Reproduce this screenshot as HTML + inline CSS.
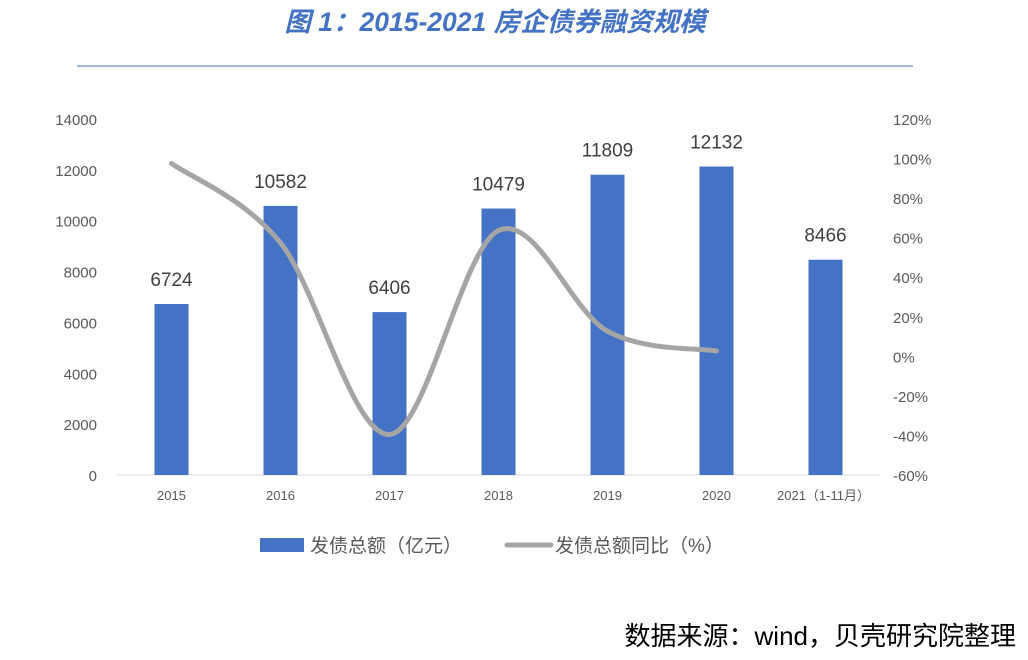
<!DOCTYPE html>
<html><head><meta charset="utf-8"><style>
html,body{margin:0;padding:0;background:#fff;}
body{width:1028px;height:660px;overflow:hidden;position:relative;font-family:"Liberation Sans","Noto Sans CJK SC",sans-serif;}
</style></head><body>
<svg width="1028" height="660" xmlns="http://www.w3.org/2000/svg" style="position:absolute;left:0;top:0">
<text x="495" y="31" text-anchor="middle" font-size="26.5" font-weight="bold" font-style="italic" fill="#4472C4" font-family="Liberation Sans, Noto Sans CJK SC, sans-serif">图 1：2015-2021 房企债券融资规模</text>
<line x1="77" y1="66" x2="913" y2="66" stroke="#4472C4" stroke-width="1"/>
<g id="plot"></g>
<g>
<rect x="260" y="538" width="44" height="14" fill="#4472C4"/>
<text x="310" y="552" font-size="19" fill="#595959">发债总额（亿元）</text>
<line x1="507" y1="545" x2="551" y2="545" stroke="#A5A5A5" stroke-width="5" stroke-linecap="round"/>
<text x="555" y="552" font-size="19" fill="#595959">发债总额同比（%）</text>
</g>
<text x="1016" y="645" text-anchor="end" font-size="26" fill="#000">数据来源：wind，贝壳研究院整理</text>
</svg>
<script>
const categories=["2015","2016","2017","2018","2019","2020","2021（1-11月）"];
const amounts=[6724,10582,6406,10479,11809,12132,8466];
const yoy=[97.5,57.4,-39.5,63.6,12.7,2.7];
const leftTicks=[0,2000,4000,6000,8000,10000,12000,14000];
const rightTicks=[-60,-40,-20,0,20,40,60,80,100,120];
const NS="http://www.w3.org/2000/svg";
const g=document.getElementById('plot');
const x0=117,x1=880,yb=475,yt=119;
const band=(x1-x0)/categories.length;
const xc=i=>x0+band*(i+0.5);
const yL=v=>yb-(v/14000)*(yb-yt);
const yR=v=>yb-((v+60)/180)*(yb-yt);
function mk(t,a){const e=document.createElementNS(NS,t);for(const k in a)e.setAttribute(k,a[k]);g.appendChild(e);return e;}
const ax=mk('line',{x1:x0,y1:yb,x2:x1,y2:yb,stroke:'#D9D9D9','stroke-width':1});


leftTicks.forEach(v=>{const t=mk('text',{x:97,y:yL(v)+6,'text-anchor':'end','font-size':15,fill:'#595959'});t.textContent=v;

});
rightTicks.forEach(v=>{const t=mk('text',{x:893,y:yR(v)+6,'font-size':15,fill:'#595959'});t.textContent=v+'%';

});
categories.forEach((c,i)=>{const big=i===6;const t=mk('text',{x:xc(i)+(big?-2:0),y:500,'text-anchor':'middle','font-size':13,fill:'#595959'});t.textContent=c;

});
amounts.forEach((v,i)=>{const w=34;const r=mk('rect',{x:xc(i)-w/2,y:yL(v),width:w,height:yb-yL(v),fill:'#4472C4'});


const t=mk('text',{x:xc(i),y:yL(v)-18,'text-anchor':'middle','font-size':19,fill:'#404040'});t.textContent=v;

});
const pts=yoy.map((v,i)=>[xc(i),yR(v)]);
let d='M'+pts[0][0]+','+pts[0][1];
for(let i=0;i<pts.length-1;i++){const p0=pts[i-1]||pts[i],p1=pts[i],p2=pts[i+1],p3=pts[i+2]||p2;const s=6;
d+=' C'+(p1[0]+(p2[0]-p0[0])/s)+','+(p1[1]+(p2[1]-p0[1])/s)+' '+(p2[0]-(p3[0]-p1[0])/s)+','+(p2[1]-(p3[1]-p1[1])/s)+' '+p2[0]+','+p2[1];}
const ln=mk('path',{d:d,fill:'none',stroke:'#A5A5A5','stroke-width':5,'stroke-linecap':'round'});


</script>
</body></html>
